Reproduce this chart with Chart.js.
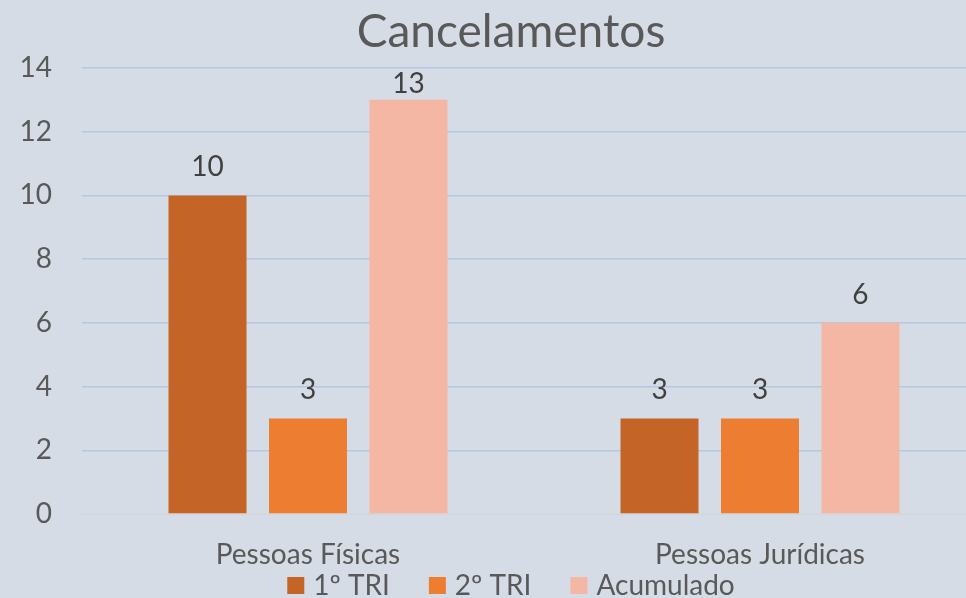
<!DOCTYPE html>
<html>
<head>
<meta charset="utf-8">
<script src="https://cdn.jsdelivr.net/npm/chart.js@4/dist/chart.umd.min.js"></script>
<style>
    html, body { margin: 0; padding: 0; overflow: hidden; background: #d6dce5; }
    #wrap { position: relative; width: 1022px; height: 598px; }
</style>
</head>
<body>
<div id="wrap"><canvas id="chart"></canvas></div>
<script>
// Chart data
const categories = ['Pessoas Físicas', 'Pessoas Jurídicas'];
const seriesNames = ['1º TRI', '2º TRI', 'Acumulado'];
const tri1 = [10, 3];
const tri2 = [3, 3];
const acumulado = [13, 6];
const chartTitle = 'Cancelamentos';

// Colors
const colors = {
    dark: '#c46527',
    orange: '#ed7d31',
    peach: '#f4b7a4',
    grid: '#b4c7e7',
    text: '#595959',
    label: '#404040'
};

const fontFamily = "Lato, 'Open Sans', sans-serif";

// Value labels above the bars (kept inside the plot, like the sheet does)
const valueLabels = {
    id: 'valueLabels',
    afterDatasetsDraw(chart) {
        const ctx = chart.ctx;
        const minY = chart.chartArea.top + 25;
        ctx.save();
        ctx.font = '28px ' + fontFamily;
        ctx.fillStyle = colors.label;
        ctx.textAlign = 'center';
        ctx.textBaseline = 'alphabetic';
        chart.data.datasets.forEach((ds, i) => {
            chart.getDatasetMeta(i).data.forEach((bar, j) => {
                ctx.fillText(ds.data[j], bar.x, Math.max(bar.y - 19, minY));
            });
        });
        ctx.restore();
    }
};

// Title + legend centred on the whole canvas (like the original sheet chart)
const frame = {
    id: 'frame',
    afterDraw(chart) {
        const ctx = chart.ctx;
        const cx = chart.width / 2;
        ctx.save();
        ctx.fillStyle = colors.text;
        ctx.textAlign = 'center';
        ctx.textBaseline = 'alphabetic';
        ctx.font = '46px ' + fontFamily;
        ctx.fillText(chartTitle, cx, 47);

        // legend
        ctx.font = '28px ' + fontFamily;
        ctx.textAlign = 'left';
        const box = 17, gap = 9, spacing = 39;
        const items = chart.data.datasets.map(ds => ({
            text: ds.label, color: ds.backgroundColor,
            w: box + gap + ctx.measureText(ds.label).width
        }));
        const total = items.reduce((s, it) => s + it.w, 0) + spacing * (items.length - 1);
        let x = cx - total / 2;
        items.forEach(it => {
            ctx.fillStyle = it.color;
            ctx.fillRect(x, 577, box, box);
            ctx.fillStyle = colors.text;
            ctx.fillText(it.text, x + box + gap, 595);
            x += it.w + spacing;
        });
        ctx.restore();
    }
};

const ctx = document.getElementById('chart').getContext('2d');
new Chart(ctx, {
    type: 'bar',
    data: {
        labels: categories,
        datasets: [
            { label: seriesNames[0], data: tri1, backgroundColor: colors.dark },
            { label: seriesNames[1], data: tri2, backgroundColor: colors.orange },
            { label: seriesNames[2], data: acumulado, backgroundColor: colors.peach }
        ]
    },
    options: {
        responsive: true, maintainAspectRatio: false,
        animation: false,
        categoryPercentage: 0.667,
        barPercentage: 0.776,
        layout: { padding: { left: 0, right: 36, top: 68, bottom: 26 } },
        plugins: {
            title: { display: false },
            legend: { display: false },
            tooltip: { enabled: false }
        },
        scales: {
            y: {
                min: 0, max: 14,
                ticks: { stepSize: 2, color: colors.text, padding: 30, font: { size: 28, family: fontFamily } },
                grid: { color: colors.grid, lineWidth: 1.5, drawTicks: false },
                border: { display: false },
                afterFit(scale) { scale.width = 82; }
            },
            x: {
                ticks: { color: colors.text, padding: 24, font: { size: 28, family: fontFamily } },
                grid: { display: false, drawTicks: false },
                border: { color: '#d9d9d9', width: 1.5 },
                afterFit(scale) { scale.height = 58; }
            }
        }
    },
    plugins: [valueLabels, frame]
});
</script>
</body>
</html>
